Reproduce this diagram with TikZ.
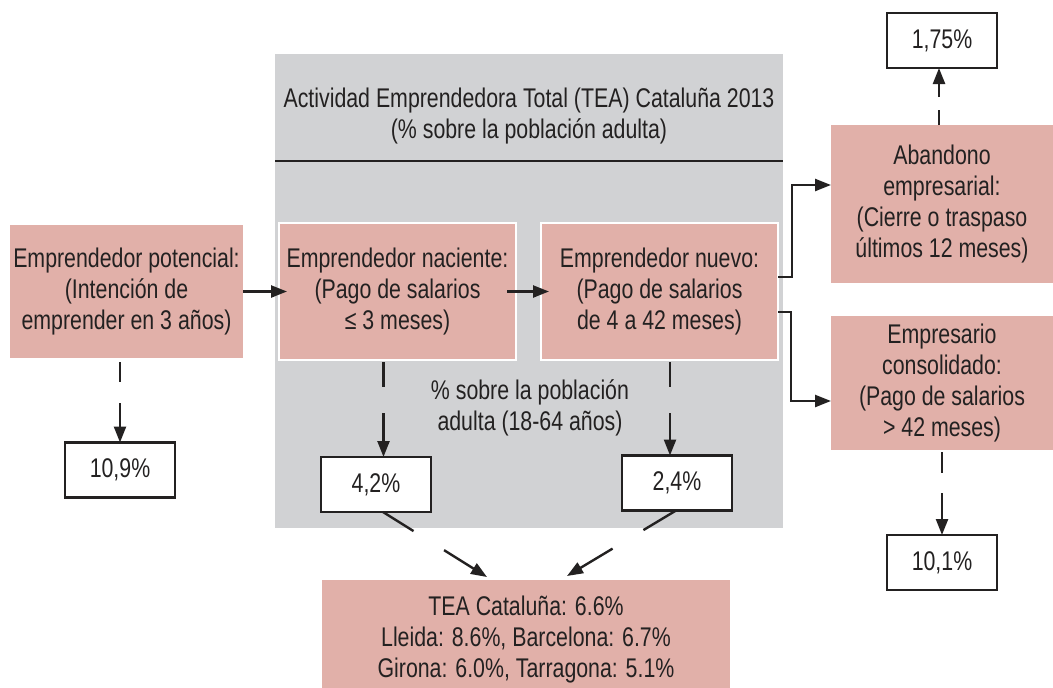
\documentclass[tikz,border=0pt]{standalone}
\usepackage{fontspec}
\setmainfont{Liberation Sans}[FakeStretch=0.79]
\usepackage{xcolor}
\usepackage{tikz}
\usetikzlibrary{arrows.meta}
\usetikzlibrary{positioning}
\usetikzlibrary{calc}

\definecolor{rosa}{RGB}{225,176,169}
\definecolor{gris}{RGB}{209,210,212}
\definecolor{tinta}{RGB}{35,33,33}

\begin{document}
\begin{tikzpicture}[x=1pt,y=-1pt,>={Triangle[length=16pt,width=12pt]},
                    line width=2.3pt,draw=tinta,text=tinta,
                    font=\fontsize{27}{31}\selectfont,node distance=30pt]
 \tikzstyle{etapa}=[fill=rosa, draw=none, inner sep=0pt, outer sep=0pt, align=center]
 \tikzstyle{borde}=[draw=white, line width=1.5pt]
 \tikzstyle{cifra}=[fill=white, draw=tinta, line width=2.4pt, inner sep=0pt, outer sep=0pt,
                    minimum width=110pt, minimum height=55pt]
 \tikzstyle{flecha}=[->, line width=2.4pt]
 \useasboundingbox (0,0) rectangle (1053,688);
 % panel gris
 \fill[gris] (275,54) rectangle (783,528);
 \draw[line width=1.3pt] (275,161) -- (783,161);
 \node (T) at (529,116) [align=center] {Actividad Emprendedora Total (TEA) Catalu\~na 2013\\ (\% sobre la poblaci\'on adulta)};
 \node (M) at (530,407.5) [align=center] {\% sobre la poblaci\'on\\ adulta (18-64 a\~nos)};

  \node[etapa] (A) at (126.5,291.5) [minimum width=233pt, minimum height=133pt] {Emprendedor potencial:\\ (Intenci\'on de\\ emprender en 3 a\~nos)};
  \node[etapa, borde] (B) [right=36pt of A, minimum width=237pt, minimum height=137pt] {Emprendedor naciente:\\ (Pago de salarios\\ ≤ 3 meses)};
  \node[etapa, borde] (C) [right=25pt of B, minimum width=237pt, minimum height=137pt] {Emprendedor nuevo:\\ (Pago de salarios\\ de 4 a 42 meses)};
  \node[etapa] (D) at (942,204) [minimum width=222pt, minimum height=158pt] {Abandono\\ empresarial:\\ (Cierre o traspaso\\ \'ultimos 12 meses)};
  \node[etapa] (E) [below=33pt of D, minimum width=222pt, minimum height=134pt] {Empresario\\ consolidado:\\ (Pago de salarios\\ > 42 meses)};
  \node[etapa] (F) at (526,640) [minimum width=408pt, minimum height=120pt] {TEA Catalu\~na: 6.6\%\\ Lleida: 8.6\%, Barcelona: 6.7\%\\ Girona: 6.0\%, Tarragona: 5.1\%};
\node[cifra] (G) at (120,470) {10,9\%};
\node[cifra] (H) at (376,484.5) {4,2\%};
\node[cifra] (I) at (677,483) {2,4\%};
\node[cifra] (J) [above=57pt of D] {1,75\%};
\node[cifra] (K) [below=85pt of E] {10,1\%};

\draw[flecha] (A.east) -- ([xshift=8pt]B.west);
\draw[flecha] ([xshift=-9pt]B.east) -- ([xshift=8pt]C.west);
\draw[flecha] ([yshift=14.5pt]C.east) -- ++(14,0) |- ([yshift=19pt]D.west);
\draw[flecha] ([yshift=-20.5pt]C.east) -- ++(13,0) |- ([yshift=-18pt]E.west);
 % flechas discontinuas
\draw[flecha, shorten <=4pt, dash pattern=on 20pt off 21pt on 100pt off 1pt] (A.south -| G) -- (G);
\draw[flecha, shorten <=2pt, dash pattern=on 25pt off 26pt on 100pt off 1pt] ([xshift=-14pt]B.south) -- ([xshift=-14pt]B.south |- H.north);
\draw[flecha, shorten <=2pt, dash pattern=on 25pt off 26pt on 100pt off 1pt] ([xshift=10.5pt]C.south) -- ([xshift=10.5pt]C.south |- I.north);
\draw[flecha, dash pattern=on 15pt off 13pt on 100pt off 1pt] ([xshift=-3pt]D.north) -- ([xshift=-3pt]D.north |- J.south);
\draw[flecha, shorten <=2pt, dash pattern=on 21pt off 20pt on 100pt off 1pt] (E.south) -- (E.south |- K.north);
\draw[flecha, dash pattern=on 36pt off 36pt on 100pt off 1pt] ([xshift=7pt]H.south) -- ([xshift=-39pt,yshift=3pt]F.north);
\draw[flecha, dash pattern=on 38pt off 36pt on 100pt off 1pt] ([xshift=-1pt]I.south) -- ([xshift=41pt,yshift=4pt]F.north);
\end{tikzpicture}
\end{document}
